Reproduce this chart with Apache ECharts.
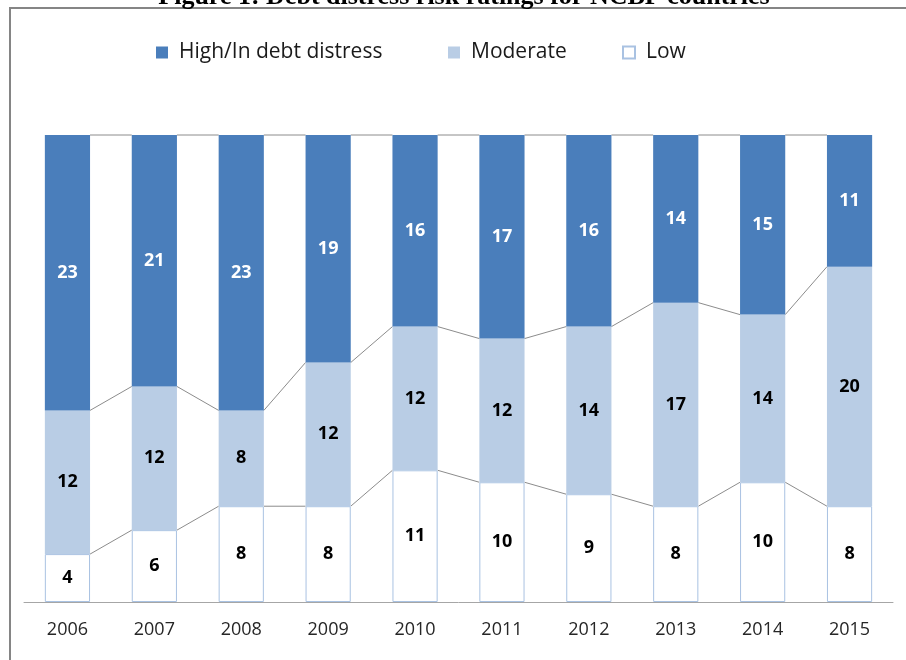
<!DOCTYPE html>
<html>
<head>
<meta charset="utf-8">
<script src="https://cdn.jsdelivr.net/npm/echarts@6/dist/echarts.min.js"></script>
<style>
  html, body { margin: 0; padding: 0; background: #ffffff; }
  #chart { width: 906px; height: 660px; }
</style>
</head>
<body>
<div id="chart"></div>
<script>
// Debt distress risk ratings, number of countries per year
const years = ['2006', '2007', '2008', '2009', '2010', '2011', '2012', '2013', '2014', '2015'];
const low = [4, 6, 8, 8, 11, 10, 9, 8, 10, 8];
const moderate = [12, 12, 8, 12, 12, 12, 14, 17, 14, 20];
const high = [23, 21, 23, 19, 16, 17, 16, 14, 15, 11];
const legendNames = ['High/In debt distress', 'Moderate', 'Low'];

const BAR_RATIO = 0.52;

// Cumulative stack heights, used for the connector lines between bars
const cumLow = low.map(v => v);
const cumMid = low.map((v, i) => v + moderate[i]);
const cumTop = low.map((v, i) => v + moderate[i] + high[i]);

const chart = echarts.init(document.getElementById('chart'), null, { renderer: 'canvas' });

const labelFont = '"Open Sans", "DejaVu Sans", sans-serif';

function connector(values) {
  return {
    type: 'custom',
    silent: true,
    z: 1,
    data: values.map((v, i) => [i, v]),
    renderItem: function (params, api) {
      const i = api.value(0);
      if (i >= values.length - 1) return null;
      const half = api.size([1, 0])[0] * BAR_RATIO / 2;
      const p0 = api.coord([i, values[i]]);
      const p1 = api.coord([i + 1, values[i + 1]]);
      return {
        type: 'line',
        shape: { x1: p0[0] + half, y1: p0[1], x2: p1[0] - half, y2: p1[1] },
        style: { stroke: '#8c8c8c', lineWidth: 1 }
      };
    }
  };
}

function barSeries(name, data, color, border, labelColor) {
  return {
    name: name,
    type: 'bar',
    stack: 'total',
    barWidth: (BAR_RATIO * 100) + '%',
    data: data,
    z: 2,
    itemStyle: { color: color, borderColor: border, borderWidth: border ? 1 : 0 },
    label: {
      show: true,
      position: 'inside',
      color: labelColor,
      fontFamily: labelFont,
      fontWeight: 'bold',
      fontSize: 18
    }
  };
}

// One legend block per entry so each can sit at its own offset
function legendAt(name, left) {
  return {
    data: [name],
    left: left,
    top: 37,
    itemWidth: 12,
    itemHeight: 12,
    icon: 'rect',
    textStyle: {
      fontFamily: labelFont,
      fontSize: 21,
      color: '#1a1a1a',
      padding: [0, 0, 0, 6]
    }
  };
}

const option = {
  backgroundColor: '#ffffff',
  animation: false,
  graphic: [
    {
      type: 'rect',
      shape: { x: 10, y: 8, width: 920, height: 700 },
      style: { fill: 'none', stroke: '#858585', lineWidth: 2 },
      silent: true
    },
    {
      type: 'text',
      x: 464,
      y: 10,
      style: {
        text: 'Figure 1: Debt distress risk ratings for NCBP countries',
        font: 'bold 26px "Liberation Serif", "DejaVu Serif", serif',
        fill: '#000000',
        align: 'center',
        verticalAlign: 'bottom'
      },
      silent: true
    }
  ],
  legend: [
    legendAt(legendNames[0], 151),
    legendAt(legendNames[1], 443),
    legendAt(legendNames[2], 617)
  ],
  grid: { left: 24, right: 13, top: 135, bottom: 58 },
  xAxis: {
    type: 'category',
    data: years,
    axisLine: { lineStyle: { color: '#a6a6a6', width: 1 } },
    axisTick: { show: false },
    axisLabel: {
      color: '#262626',
      fontFamily: labelFont,
      fontSize: 18,
      margin: 19
    }
  },
  yAxis: {
    type: 'value',
    min: 0,
    max: 39,
    show: false,
    splitLine: { show: false }
  },
  series: [
    barSeries(legendNames[2], low, '#ffffff', '#a9c2e2', '#000000'),
    barSeries(legendNames[1], moderate, '#b9cde5', null, '#000000'),
    barSeries(legendNames[0], high, '#4a7ebb', null, '#ffffff'),
    connector(cumLow),
    connector(cumMid),
    connector(cumTop)
  ]
};

chart.setOption(option);
</script>
</body>
</html>
